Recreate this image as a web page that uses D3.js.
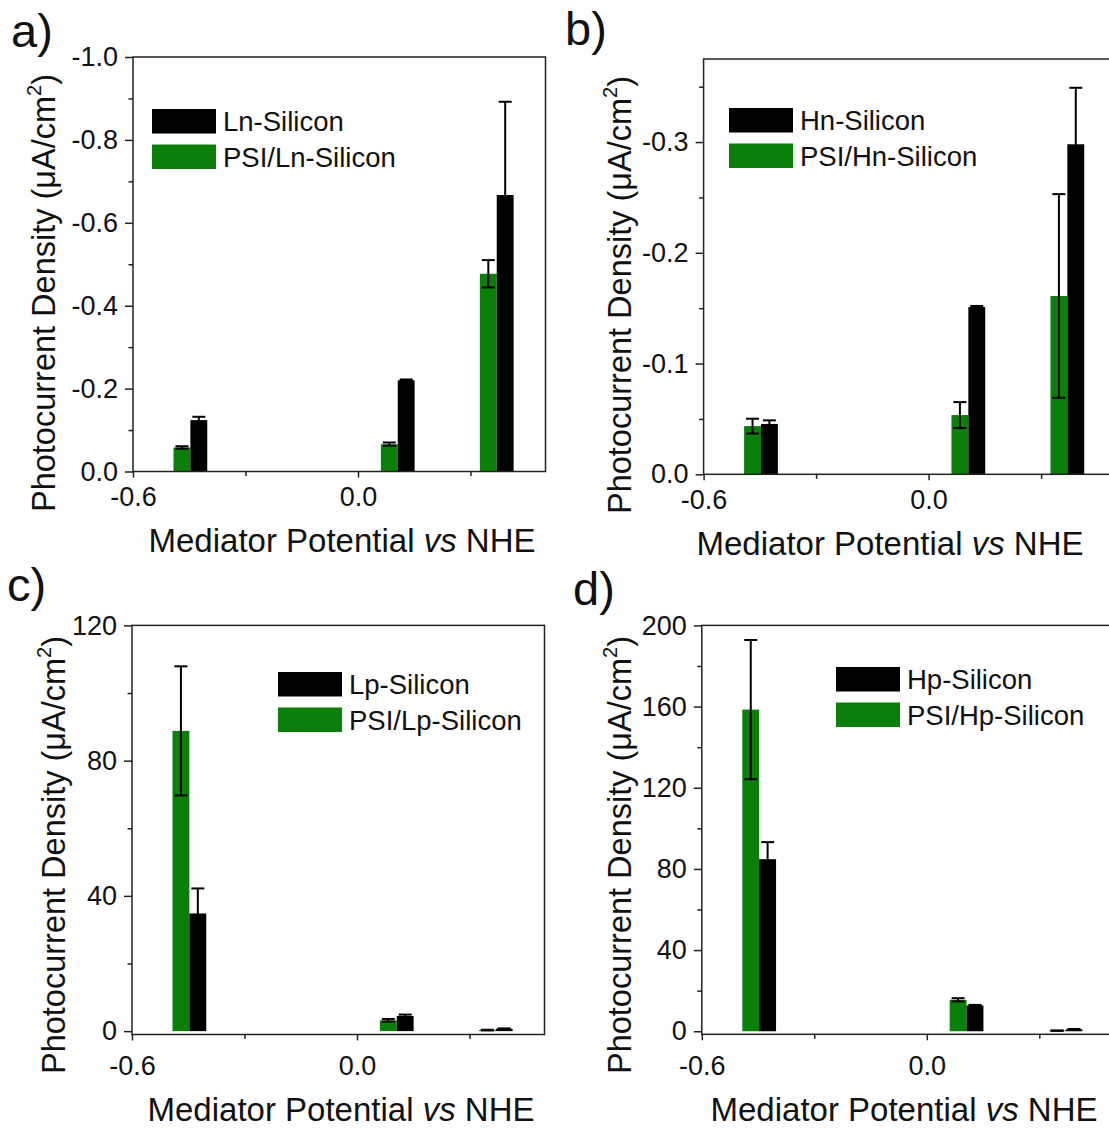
<!DOCTYPE html>
<html>
<head>
<meta charset="utf-8">
<script src="https://cdn.jsdelivr.net/npm/d3@7"></script>
<style>
  body { margin: 0; background: #fff; }
  text { font-family: "Liberation Sans", Arial, sans-serif; fill: #111; }
</style>
</head>
<body>
<div class="chart"></div>
<script>
// mediator potentials (V vs NHE) = centre of each bar pair
var potentials = [-0.447, 0.106, 0.37];

// a) Ln-Silicon  (uA/cm2)
var lnBare = [-0.124, -0.220, -0.667];
var lnBareErr = [0.008, 0.002, 0.225];
var lnPsi = [-0.058, -0.066, -0.477];
var lnPsiErr = [0.003, 0.004, 0.033];

// b) Hn-Silicon
var hnBare = [-0.0455, -0.151, -0.298];
var hnBareErr = [0.0032, 0.001, 0.051];
var hnPsi = [-0.0435, -0.0535, -0.161];
var hnPsiErr = [0.0067, 0.0117, 0.092];

// c) Lp-Silicon
var lpBare = [34.8, 4.5, 0.7];
var lpBareErr = [7.4, 0.4, 0.1];
var lpPsi = [88.8, 3.2, 0.3];
var lpPsiErr = [19.1, 0.4, 0.1];

// d) Hp-Silicon
var hpBare = [84.8, 12.7, 0.9];
var hpBareErr = [8.4, 0.3, 0.2];
var hpPsi = [158.5, 15.5, 0.3];
var hpPsiErr = [34.3, 0.8, 0.1];

// tick values
var xTicks = [-0.6, 0.0];
var xMinor = [-0.3, 0.3];
var aTicks = [-1.0, -0.8, -0.6, -0.4, -0.2, 0.0];
var aMinor = [-0.9, -0.7, -0.5, -0.3, -0.1];
var bTicks = [-0.3, -0.2, -0.1, 0.0];
var bMinor = [-0.35, -0.25, -0.15, -0.05];
var cTicks = [0, 40, 80, 120];
var cMinor = [20, 60, 100];
var dTicks = [0, 40, 80, 120, 160, 200];
var dMinor = [20, 60, 100, 140, 180];

var green = "#0a7f0a";
var black = "#000000";
var barW = 0.045; // width of one bar in x units

var svgWidth = 1109, svgHeight = 1129;

// plain hyphen minus like the original figure
var fmt1 = function (d) { return d3.format(".1f")(d).replace("\u2212", "-"); };
var fmt0 = function (d) { return d3.format("d")(d).replace("\u2212", "-"); };

var svg = d3.select(".chart")
  .append("svg")
  .attr("width", svgWidth)
  .attr("height", svgHeight);

var panels = [
  { tag: "a)", tagX: 11, tagY: 47,
    left: 133, top: 57, bottom: 471.5, yDomain: [0, -1.0],
    yTicks: aTicks, yMinor: aMinor, fmt: fmt1,
    bare: lnBare, bareErr: lnBareErr, psi: lnPsi, psiErr: lnPsiErr,
    names: ["Ln-Silicon", "PSI/Ln-Silicon"], legX: 152, legY: 109,
    xLabPad: 34, titleX: 342, titleY: 552, yTitleX: 55, yTitleY: 512 },
  { tag: "b)", tagX: 565, tagY: 45,
    left: 703.6, top: 59, bottom: 474.3, yDomain: [0, -0.375],
    yTicks: bTicks, yMinor: bMinor, fmt: fmt1,
    bare: hnBare, bareErr: hnBareErr, psi: hnPsi, psiErr: hnPsiErr,
    names: ["Hn-Silicon", "PSI/Hn-Silicon"], legX: 729, legY: 108,
    xLabPad: 35, titleX: 890, titleY: 555, yTitleX: 631, yTitleY: 514 },
  { tag: "c)", tagX: 7, tagY: 601,
    left: 132, top: 625.4, bottom: 1034.5, yDomain: [-1, 120],
    yTicks: cTicks, yMinor: cMinor, fmt: fmt0,
    bare: lpBare, bareErr: lpBareErr, psi: lpPsi, psiErr: lpPsiErr,
    names: ["Lp-Silicon", "PSI/Lp-Silicon"], legX: 278, legY: 672,
    xLabPad: 40, titleX: 341, titleY: 1121, yTitleX: 65, yTitleY: 1074 },
  { tag: "d)", tagX: 573, tagY: 605,
    left: 701.8, top: 625.4, bottom: 1034.3, yDomain: [-1.5, 200],
    yTicks: dTicks, yMinor: dMinor, fmt: fmt0,
    bare: hpBare, bareErr: hpBareErr, psi: hpPsi, psiErr: hpPsiErr,
    names: ["Hp-Silicon", "PSI/Hp-Silicon"], legX: 836, legY: 667,
    xLabPad: 41, titleX: 904, titleY: 1121, yTitleX: 631, yTitleY: 1074 }
];

panels.forEach(drawPanel);

function drawPanel(p) {
  var xScale = d3.scaleLinear().domain([-0.6, 0.5]).range([p.left, p.left + 412.5]);
  var yScale = d3.scaleLinear().domain(p.yDomain).range([p.bottom, p.top]);
  var g = svg.append("g");

  var rows = potentials.map(function (v, i) {
    return { pos: v, psi: p.psi[i], psiErr: p.psiErr[i], bare: p.bare[i], bareErr: p.bareErr[i] };
  });

  var bw = xScale(barW) - xScale(0);
  var y0 = yScale(0);

  // green (PSI) bars left of centre, black (bare) bars right of centre
  g.selectAll("rect.psi").data(rows).enter().append("rect")
    .attr("class", "psi")
    .attr("x", d => xScale(d.pos) - bw)
    .attr("y", d => Math.min(y0, yScale(d.psi)))
    .attr("width", bw)
    .attr("height", d => Math.abs(yScale(d.psi) - y0))
    .attr("fill", green);

  g.selectAll("rect.bare").data(rows).enter().append("rect")
    .attr("class", "bare")
    .attr("x", d => xScale(d.pos))
    .attr("y", d => Math.min(y0, yScale(d.bare)))
    .attr("width", bw)
    .attr("height", d => Math.abs(yScale(d.bare) - y0))
    .attr("fill", black);

  // error bars
  var errs = [];
  rows.forEach(function (d) {
    errs.push({ cx: xScale(d.pos) - bw / 2, v: d.psi, e: d.psiErr });
    errs.push({ cx: xScale(d.pos) + bw / 2, v: d.bare, e: d.bareErr });
  });
  var cap = 6.5;
  var eb = g.selectAll("g.err").data(errs).enter().append("g").attr("class", "err")
    .attr("stroke", "#000").attr("stroke-width", 2);
  eb.append("line")
    .attr("x1", d => d.cx).attr("x2", d => d.cx)
    .attr("y1", d => yScale(d.v - d.e)).attr("y2", d => yScale(d.v + d.e));
  eb.append("line")
    .attr("x1", d => d.cx - cap).attr("x2", d => d.cx + cap)
    .attr("y1", d => yScale(d.v - d.e)).attr("y2", d => yScale(d.v - d.e));
  eb.append("line")
    .attr("x1", d => d.cx - cap).attr("x2", d => d.cx + cap)
    .attr("y1", d => yScale(d.v + d.e)).attr("y2", d => yScale(d.v + d.e));

  // frame
  g.append("rect")
    .attr("x", p.left).attr("y", p.top)
    .attr("width", xScale.range()[1] - p.left)
    .attr("height", p.bottom - p.top)
    .attr("fill", "none").attr("stroke", "#222").attr("stroke-width", 1.5);

  // y axis, major + minor
  var yAx = g.append("g").attr("transform", `translate(${p.left},0)`)
    .call(d3.axisLeft(yScale).tickValues(p.yTicks).tickFormat(p.fmt).tickSize(8).tickPadding(7));
  var yMin = g.append("g").attr("transform", `translate(${p.left},0)`)
    .call(d3.axisLeft(yScale).tickValues(p.yMinor).tickFormat("").tickSize(4.5));

  // x axis, major + minor
  var xAx = g.append("g").attr("transform", `translate(0,${p.bottom})`)
    .call(d3.axisBottom(xScale).tickValues(xTicks).tickFormat(fmt1).tickSize(6));
  var xMin = g.append("g").attr("transform", `translate(0,${p.bottom})`)
    .call(d3.axisBottom(xScale).tickValues(xMinor).tickFormat("").tickSize(4.5));

  [yAx, yMin, xAx, xMin].forEach(function (a) {
    a.select(".domain").remove();
    a.selectAll("line").attr("stroke", "#222").attr("stroke-width", 1.5);
    a.selectAll("text").attr("font-size", 27).attr("fill", "#111")
      .attr("font-family", "'Liberation Sans', Arial, sans-serif");
  });
  xAx.selectAll("text").attr("dy", null).attr("y", p.xLabPad);

  // axis titles
  var xt = g.append("text")
    .attr("x", p.titleX).attr("y", p.titleY)
    .attr("text-anchor", "middle").attr("font-size", 33);
  xt.append("tspan").text("Mediator Potential ");
  xt.append("tspan").attr("font-style", "italic").text("vs");
  xt.append("tspan").text(" NHE");

  var yt = g.append("text")
    .attr("transform", `translate(${p.yTitleX},${p.yTitleY}) rotate(-90)`)
    .attr("text-anchor", "start").attr("font-size", 32.5);
  yt.append("tspan").text("Photocurrent Density (\u03BCA/cm");
  yt.append("tspan").attr("font-size", 20).attr("dy", -14).text("2");
  yt.append("tspan").attr("dy", 14).text(")");

  // legend
  var lg = g.append("g").attr("transform", `translate(${p.legX},${p.legY})`);
  [black, green].forEach(function (c, i) {
    lg.append("rect").attr("x", 0).attr("y", i * 35.5).attr("width", 64).attr("height", 24.5).attr("fill", c);
    lg.append("text").attr("x", 71).attr("y", i * 35.5 + 22).attr("font-size", 27.5).text(p.names[i]);
  });

  // panel letter
  svg.append("text").attr("x", p.tagX).attr("y", p.tagY).attr("font-size", 47).text(p.tag);
}
</script>
</body>
</html>
